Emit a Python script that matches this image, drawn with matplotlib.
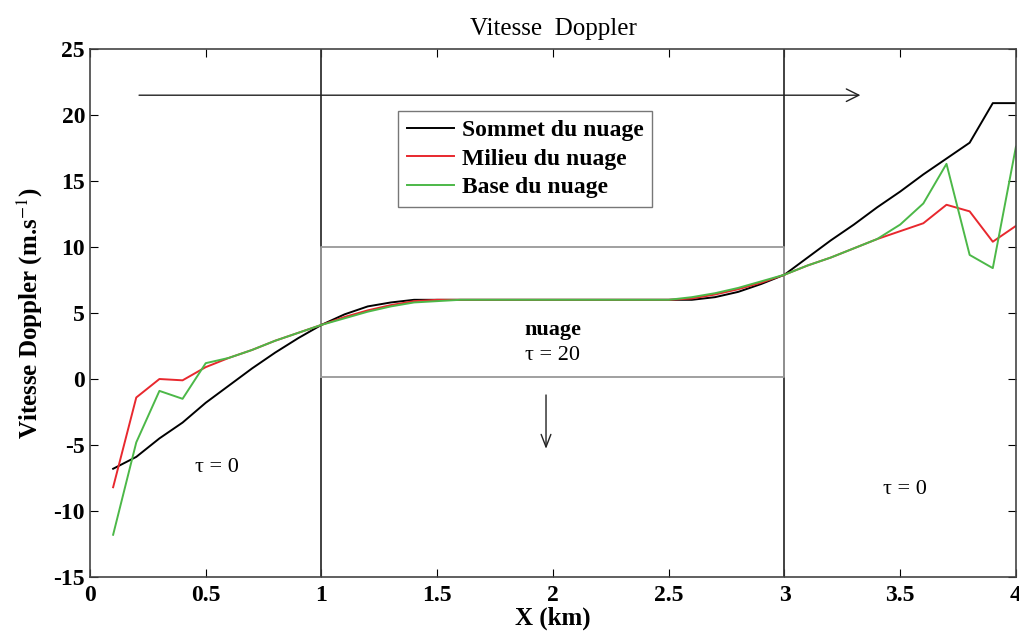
import matplotlib.pyplot as plt
import numpy as np

plt.rcParams['font.family'] = ['Liberation Serif', 'DejaVu Serif']
plt.rcParams['axes.unicode_minus'] = False
plt.rcParams['mathtext.fontset'] = 'stix'

# distance along track (km)
x_km = np.round(np.arange(1, 41) * 0.1, 1)

sommet = [-6.8, -5.9, -4.5, -3.3, -1.8, -0.5, 0.8, 2.0, 3.1, 4.1,
          4.9, 5.5, 5.8, 6.0, 6.0, 6.0, 6.0, 6.0, 6.0, 6.0,
          6.0, 6.0, 6.0, 6.0, 6.0, 6.0, 6.2, 6.6, 7.2, 7.9,
          9.2, 10.5, 11.7, 13.0, 14.2, 15.5, 16.7, 17.9, 20.9, 20.9]
milieu = [-8.2, -1.4, 0.0, -0.1, 0.9, 1.6, 2.2, 2.9, 3.5, 4.1,
          4.7, 5.2, 5.6, 5.9, 6.0, 6.0, 6.0, 6.0, 6.0, 6.0,
          6.0, 6.0, 6.0, 6.0, 6.0, 6.1, 6.4, 6.8, 7.3, 7.9,
          8.6, 9.2, 9.9, 10.6, 11.2, 11.8, 13.2, 12.7, 10.4, 11.6]
base = [-11.8, -4.8, -0.9, -1.5, 1.2, 1.6, 2.2, 2.9, 3.5, 4.1,
        4.6, 5.1, 5.5, 5.8, 5.9, 6.0, 6.0, 6.0, 6.0, 6.0,
        6.0, 6.0, 6.0, 6.0, 6.0, 6.2, 6.5, 6.9, 7.4, 7.9,
        8.6, 9.2, 9.9, 10.6, 11.7, 13.3, 16.3, 9.4, 8.4, 17.6]

fig = plt.figure(figsize=(10.19, 6.34), dpi=100)
ax = fig.add_axes([0.0883, 0.0899, 0.9087, 0.8328])

# cloud limits and cloud box
ax.axvline(1, color='#333333', lw=1.3)
ax.axvline(3, color='#333333', lw=1.3)
ax.plot([1, 3, 3, 1, 1], [0.15, 0.15, 10, 10, 0.15], color='#999999', lw=1.3)

ax.plot(x_km, sommet, color='black', lw=1.4, label='Sommet du nuage')
ax.plot(x_km, milieu, color='#e8282e', lw=1.4, label='Milieu du nuage')
ax.plot(x_km, base, color='#4cb848', lw=1.4, label='Base du nuage')

# arrows
ax.annotate('', xy=(3.34, 21.5), xytext=(0.2, 21.5),
            arrowprops=dict(arrowstyle='->,head_length=0.9,head_width=0.45', color='#222222', lw=1.0))
ax.annotate('', xy=(1.97, -5.5), xytext=(1.97, -1.0),
            arrowprops=dict(arrowstyle='->,head_length=0.9,head_width=0.35', color='#222222', lw=1.0))

ax.text(0.55, -6.7, 'τ = 0', fontsize=16, ha='center', va='center')
ax.text(3.52, -8.4, 'τ = 0', fontsize=16, ha='center', va='center')
ax.text(2.0, 3.7, 'nuage', fontsize=16, fontweight='bold', ha='center', va='center')
ax.text(2.0, 1.8, 'τ = 20', fontsize=16, ha='center', va='center')

ax.set_xlim(0, 4)
ax.set_ylim(-15, 25)
ax.set_xticks(np.arange(0, 4.01, 0.5))
ax.set_xticklabels(['0', '0.5', '1', '1.5', '2', '2.5', '3', '3.5', '4'])
ax.set_yticks(np.arange(-15, 26, 5))
ax.tick_params(direction='in', top=True, right=True, length=6, labelsize=17)
ax.tick_params(axis='x', pad=6)
for lab in ax.get_xticklabels() + ax.get_yticklabels():
    lab.set_fontweight('bold')
for s in ax.spines.values():
    s.set_color('#444444')
    s.set_linewidth(1.2)

ax.set_title('Vitesse  Doppler', fontsize=18, pad=10)
ax.set_xlabel('X (km)', fontsize=18, fontweight='bold', labelpad=0)
ax.set_ylabel('Vitesse Doppler (m.s$^{-1}$)', fontsize=18, fontweight='bold', labelpad=6)

leg = ax.legend(loc='upper left', bbox_to_anchor=(0.333, 0.882),
                prop={'weight': 'bold', 'size': 17}, frameon=True, fancybox=False,
                handlelength=2.0, borderpad=0.35, labelspacing=0.3, handletextpad=0.35,
                borderaxespad=0)
leg.get_frame().set_edgecolor('#555555')
leg.get_frame().set_linewidth(1.0)

fig.savefig('out.png', dpi=100)
